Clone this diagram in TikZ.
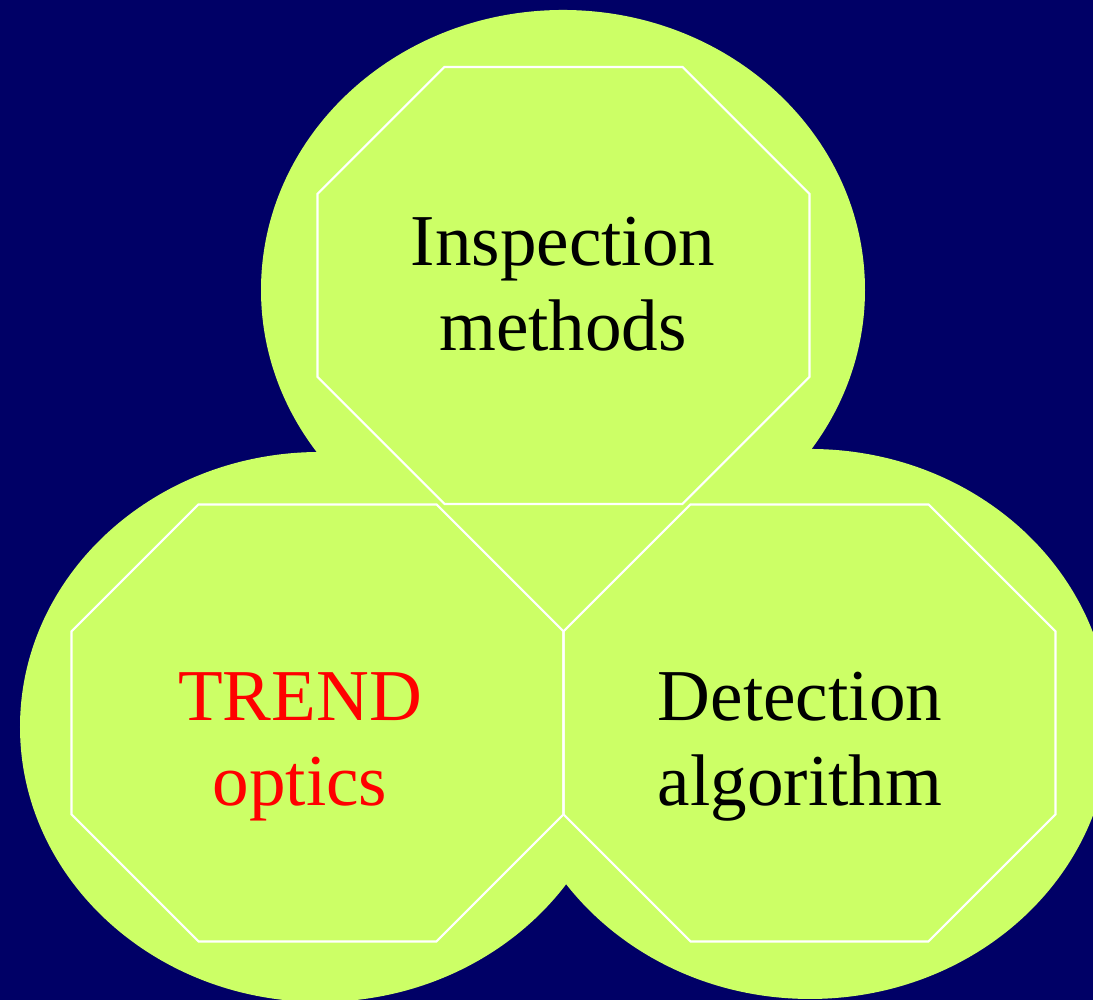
\documentclass[tikz,border=0pt]{standalone}
\usepackage{fontspec}
\setmainfont{Liberation Serif}
\definecolor{navy}{RGB}{0,0,102}
\definecolor{lime}{RGB}{204,255,102}

\begin{document}
\begin{tikzpicture}[blob/.style={fill=lime}, octo/.style={draw=white, line width=0.6pt, line join=miter}, lbl/.style={align=center, inner sep=0pt, font=\fontsize{20.8}{24.2}\selectfont}]
	\useasboundingbox (0,0) rectangle (10.93,10);
	\clip (0,0) rectangle (10.93,10);
	\fill[navy] (0,0) rectangle (10.93,10);
	\fill[blob] (5.63,7.10) ellipse [x radius=3.02, y radius=2.80];
	\fill[blob] (3.20,2.73) ellipse [x radius=3.00, y radius=2.75];
	\fill[blob] (8.10,2.76) ellipse [x radius=3.00, y radius=2.75];
	\coordinate (oi) at (5.635,7.145);
	\coordinate (ot) at (3.175,2.77);
	\coordinate (od) at (8.095,2.77);
	\foreach \c in {oi, ot, od} {\draw[octo, shift={(\c)}] (-1.19,2.185) -- (1.19,2.185) -- (2.46,0.915) -- (2.46,-0.915) -- (1.19,-2.185) -- (-1.19,-2.185) -- (-2.46,-0.915) -- (-2.46,0.915) -- cycle;}
	\node[lbl] (insp) at (5.63,7.16) {Inspection\\ methods};
	\node[lbl, text=red] (trend) at (3.00,2.53) {TREND\\ optics};
	\node[lbl] (detect) at (8.00,2.53) {Detection\\ algorithm};
\end{tikzpicture}
\end{document}
